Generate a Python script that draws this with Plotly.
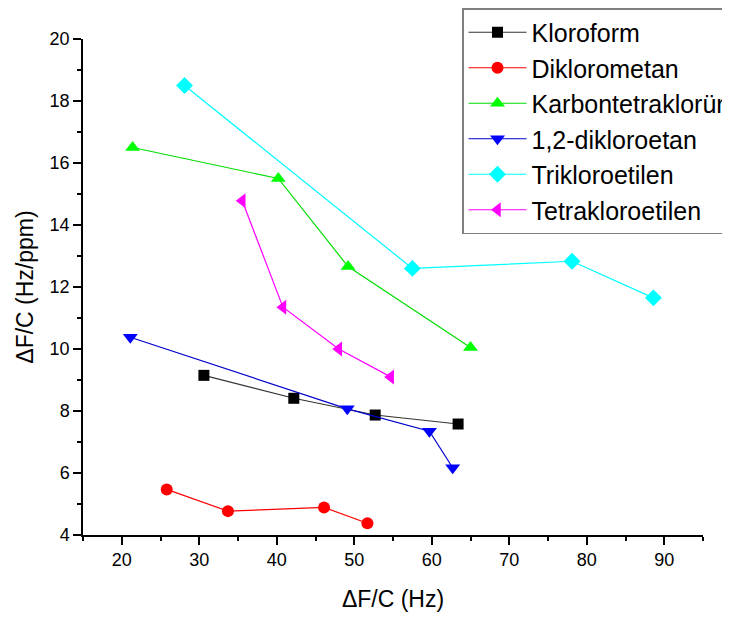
import plotly.graph_objects as go

names = ["Kloroform", "Diklorometan", "Karbontetraklorür", "1,2-dikloroetan",
         "Trikloroetilen", "Tetrakloroetilen"]

kloroform_x = [30.6, 42.2, 52.7, 63.4]
kloroform_y = [9.15, 8.41, 7.87, 7.58]

diklorometan_x = [25.8, 33.7, 46.1, 51.7]
diklorometan_y = [5.47, 4.77, 4.89, 4.38]

karbon_x = [21.4, 40.2, 49.2, 65.0]
karbon_y = [16.5, 15.5, 12.66, 10.05]

dikloroetan_x = [21.1, 49.1, 59.7, 62.7]
dikloroetan_y = [10.38, 8.07, 7.35, 6.17]

trikloro_x = [28.1, 57.5, 78.1, 88.6]
trikloro_y = [18.5, 12.6, 12.83, 11.65]

tetrakloro_x = [35.55, 40.8, 48.0, 54.7]
tetrakloro_y = [14.78, 11.35, 10.0, 9.1]

xs = [kloroform_x, diklorometan_x, karbon_x, dikloroetan_x, trikloro_x, tetrakloro_x]
ys = [kloroform_y, diklorometan_y, karbon_y, dikloroetan_y, trikloro_y, tetrakloro_y]

line_colors = ["#333333", "#FF0000", "#00DD00", "#0000CC", "#00FFFF", "#FF00FF"]
marker_colors = ["#000000", "#FF0000", "#00FF00", "#0000FF", "#00FFFF", "#FF00FF"]
symbols = ["square", "circle", "triangle-up", "triangle-down", "diamond", "triangle-left"]
sizes = [11, 12, 13, 13, 13, 13]

fig = go.Figure()
for n, x, y, lc, mc, s, sz in zip(names, xs, ys, line_colors, marker_colors, symbols, sizes):
    fig.add_trace(go.Scatter(
        x=x, y=y, name=n, mode="lines+markers",
        line=dict(color=lc, width=1.2),
        marker=dict(symbol=s, size=sz, color=mc, line=dict(width=0)),
    ))

# page body has an 8px margin: figure sized/offset to compensate
fig.update_layout(
    width=722, height=613,
    margin=dict(l=75, r=27, t=31, b=86, autoexpand=False),
    plot_bgcolor="white", paper_bgcolor="white",
    font=dict(family="Liberation Sans, Arial, sans-serif", color="black"),
    legend=dict(
        x=(454 - 75) / 620, xanchor="left",
        y=1 + 31 / 496, yanchor="top",
        bgcolor="white", bordercolor="#808080", borderwidth=1.5,
        font=dict(size=25, color="black"),
        itemwidth=58,
        tracegroupgap=0,
    ),
    showlegend=True,
)

fig.update_xaxes(
    range=[15, 95], tick0=20, dtick=10,
    showline=True, linecolor="black", linewidth=1.5,
    ticks="outside", ticklen=8, tickwidth=1.5, tickcolor="black",
    minor=dict(dtick=5, tick0=15, ticks="outside", ticklen=4, tickwidth=1.5, tickcolor="black"),
    showgrid=False, zeroline=False,
    tickfont=dict(size=18),
    title=dict(text="ΔF/C (Hz)", font=dict(size=23), standoff=22),
)
fig.update_yaxes(
    range=[4, 20], tick0=4, dtick=2,
    showline=True, linecolor="black", linewidth=1.5,
    ticks="outside", ticklen=8, tickwidth=1.5, tickcolor="black",
    minor=dict(dtick=1, tick0=4, ticks="outside", ticklen=4, tickwidth=1.5, tickcolor="black"),
    showgrid=False, zeroline=False,
    tickfont=dict(size=18),
    title=dict(text="ΔF/C (Hz/ppm)", font=dict(size=23), standoff=10),
)

fig.write_html("out.html")
